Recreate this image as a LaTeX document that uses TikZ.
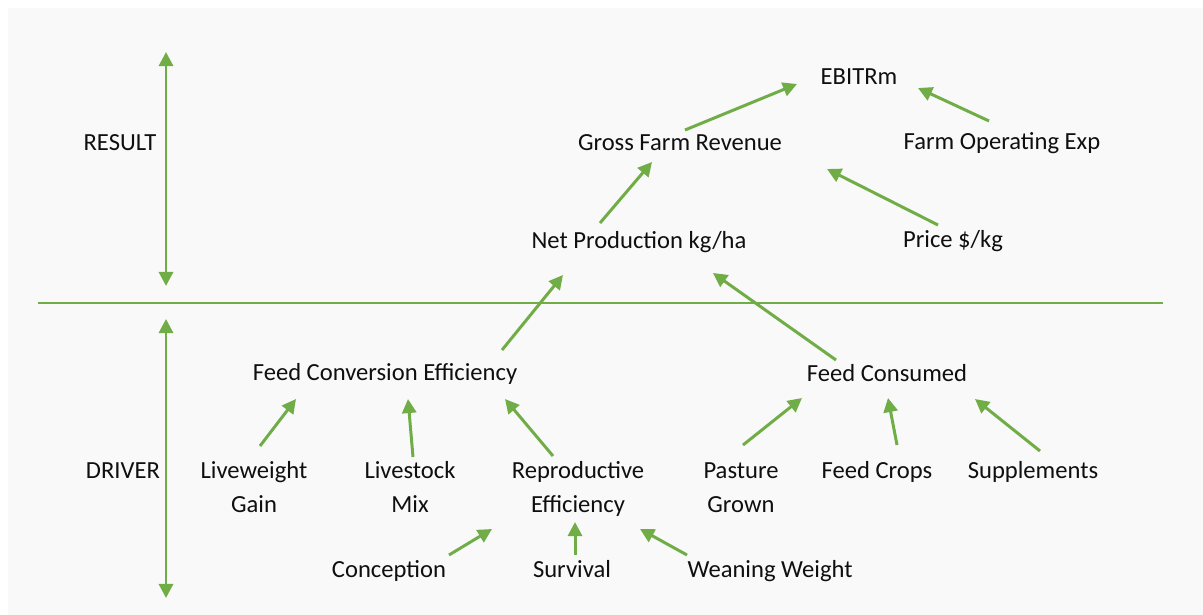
\documentclass[tikz,border=0pt]{standalone}
\usepackage{fontspec}
\setmainfont{Carlito}
\usetikzlibrary{arrows.meta, calc}
\definecolor{farm-green}{RGB}{112,173,71}
\definecolor{farm-bg}{RGB}{249,249,249}
\definecolor{farm-text}{RGB}{15,15,15}

\begin{document}
\begin{tikzpicture}[
  x=0.02cm, y=-0.02cm,
  metric/.style={anchor=base, inner sep=0pt, align=center, text=farm-text, font=\fontsize{14}{19.3}\selectfont},
  link/.style={draw=farm-green, line width=1.7pt, -{Triangle[length=8pt, width=8pt]}},
  axis/.style={draw=farm-green, line width=1.7pt, {Triangle[length=8pt, width=8pt]}-{Triangle[length=8pt, width=8pt]}},
]
  \useasboundingbox (0,0) rectangle (1203,615);
  \fill[farm-bg] (8,8) rectangle (1203,615);

  % Divider and side axes
  \coordinate (divL) at (38,303);
  \coordinate (divR) at (1163,303);
  \draw[draw=farm-green, line width=1.7pt] (divL) -- (divR);
  \coordinate (resTop) at (166,52);
  \coordinate (resBot) at (166,286);
  \coordinate (drvTop) at (166,319);
  \coordinate (drvBot) at (166,598);
  \draw[axis] (resTop) -- (resBot);
  \draw[axis] (drvTop) -- (drvBot);

  \node[metric] (result) at (120,151) {RESULT};
  \node[metric] (driver) at (123,478) {DRIVER};

  % Result side
  \node[metric] (ebitrm) at (859,85) {EBITRm};
  \node[metric] (gfr) at (680,151) {Gross Farm Revenue};
  \node[metric] (foe) at (1002,150) {Farm Operating Exp};
  \node[metric] (np) at (639,248) {Net Production kg/ha};
  \node[metric] (price) at (953,247) {Price \$/kg};

  % Driver side (two-line labels sit on their last baseline)
  \node[metric] (fce) at (385,380) {Feed Conversion Efficiency};
  \node[metric] (fc) at (887,381) {Feed Consumed};
  \node[metric] (lwg) at (254,512) {Liveweight\\Gain};
  \node[metric] (lsm) at (410,512) {Livestock\\Mix};
  \node[metric] (re) at (578,512) {Reproductive\\Efficiency};
  \node[metric] (pg) at (741,512) {Pasture\\Grown};
  \node[metric] (crops) at (877,478) {Feed Crops};
  \node[metric] (supp) at (1033,478) {Supplements};
  \node[metric] (conc) at (389,577) {Conception};
  \node[metric] (surv) at (572,577) {Survival};
  \node[metric] (ww) at (770,577) {Weaning Weight};

  % Links
  \draw[link] ($(gfr.base)+(5,-21)$) -- ($(ebitrm.base)+(-62,-1)$);
  \draw[link] ($(foe.base)+(-13,-29)$) -- ($(ebitrm.base)+(59,3)$);
  \draw[link] ($(np.base)+(-39,-25)$) -- ($(gfr.base)+(-28,11)$);
  \draw[link] ($(price.base)+(-15,-22)$) -- ($(gfr.base)+(147,18)$);
  \draw[link] ($(fce.base)+(117,-30)$) -- ($(np.base)+(-76,27)$);
  \draw[link] ($(fc.base)+(-51,-21)$) -- ($(np.base)+(74,25)$);
  \draw[link] ($(pg.base)+(2,-67)$) -- ($(fc.base)+(-85,17)$);
  \draw[link] ($(crops.base)+(20,-33)$) -- ($(fc.base)+(1,17)$);
  \draw[link] ($(supp.base)+(7,-27)$) -- ($(fc.base)+(88,18)$);
  \draw[link] ($(lwg.base)+(6,-66)$) -- ($(fce.base)+(-89,19)$);
  \draw[link] ($(lsm.base)+(3,-55)$) -- ($(fce.base)+(23,19)$);
  \draw[link] ($(re.base)+(-25,-56)$) -- ($(fce.base)+(120,19)$);
  \draw[link] ($(conc.base)+(60,-22)$) -- ($(re.base)+(-86,17)$);
  \draw[link] ($(surv.base)+(3,-22)$) -- ($(re.base)+(-3,10)$);
  \draw[link] ($(ww.base)+(-83,-22)$) -- ($(re.base)+(62,17)$);
\end{tikzpicture}
\end{document}
